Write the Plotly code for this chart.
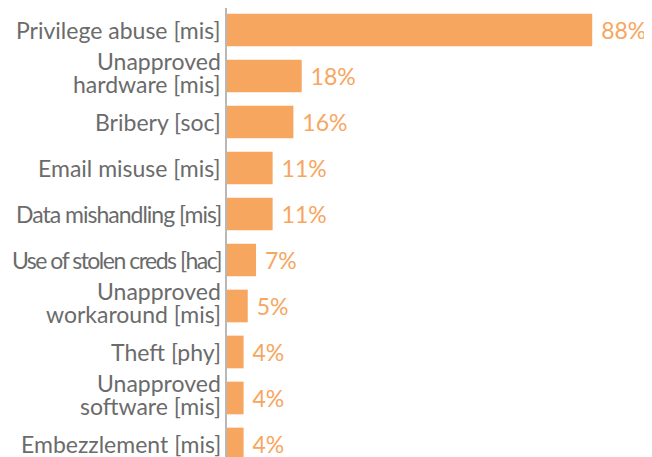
import plotly.graph_objects as go

categories = [
    "Privilege abuse [mis]",
    "Unapproved<br>hardware [mis]",
    "Bribery [soc]",
    "Email misuse [mis]",
    "Data mishandling [mis]",
    "Use of stolen creds [hac]",
    "Unapproved<br>workaround [mis]",
    "Theft [phy]",
    "Unapproved<br>software [mis]",
    "Embezzlement [mis]",
]
values = [88, 18, 16, 11, 11, 7, 5, 4, 4, 4]

BAR = "#F7A660"
GREY = "#6b6b6b"
FONT = "Lato"

# the page body has an 8px margin, so the figure is made 8px smaller
W, H = 644, 449

fig = go.Figure(
    go.Bar(
        x=values,
        y=categories,
        orientation="h",
        marker=dict(color=BAR, line=dict(width=0)),
        text=[f"\u00a0{v}%" for v in values],
        textposition="outside",
        textfont=dict(family=FONT, size=23, color=BAR),
        cliponaxis=False,
        width=0.71,
    )
)

# tighter spacing for the long labels
squeeze = {"Data mishandling [mis]": -1.0, "Use of stolen creds [hac]": -1.5}

for cat in categories:
    lines = cat.split("<br>")
    shifts = [0] if len(lines) == 1 else [15, -8]
    for line, dy in zip(lines, shifts):
        txt = line
        if line in squeeze:
            txt = f"<span style='letter-spacing:{squeeze[line]}px'>{line}</span>"
        fig.add_annotation(
            x=0, y=cat, xref="x", yref="y",
            text=txt, showarrow=False,
            xanchor="right", yanchor="middle",
            xshift=-4, yshift=dy,
            font=dict(family=FONT, size=23, color=GREY),
        )

fig.update_layout(
    width=W,
    height=H,
    margin=dict(l=219, r=0, t=0, b=0),
    paper_bgcolor="white",
    plot_bgcolor="white",
    showlegend=False,
    font=dict(family=FONT, color=GREY),
    xaxis=dict(range=[0, 102.4], visible=False, automargin=False),
    yaxis=dict(
        range=[9.283, -0.478],
        showline=True,
        linecolor="#b8b8b8",
        linewidth=1.5,
        showgrid=False,
        zeroline=False,
        ticks="",
        showticklabels=False,
        automargin=False,
    ),
)

fig.write_html("out.html")
